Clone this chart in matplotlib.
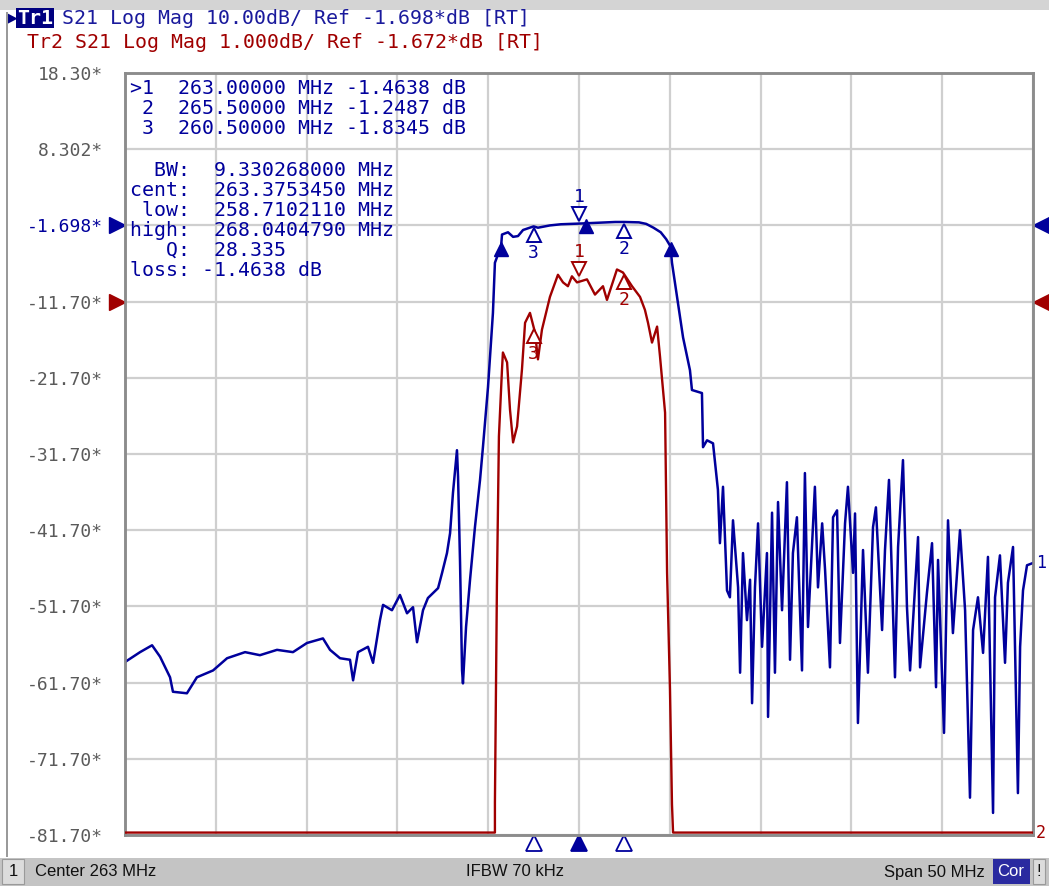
import numpy as np
import matplotlib
matplotlib.use("Agg")
import matplotlib.pyplot as plt
from matplotlib.transforms import offset_copy, blended_transform_factory
from matplotlib.patches import Rectangle

W, H = 1049, 886

BLUE = "#00009c"
RED = "#a00000"
GRID = "#cfcfcf"
FRAME = "#8c8c8c"
LABEL_GRAY = "#5a5a5a"

# sweep setup
CENTER_MHZ = 263.0
SPAN_MHZ = 50.0
TR1_REF = -1.698   # dB, 10 dB/div, ref at 2nd division from top
TR2_REF = -1.672   # dB, 1 dB/div, ref at 3rd division from top

# trace 1 (S21, 10 dB/div)
tr1_freq = [238.00, 238.83, 239.49, 239.93, 240.48, 240.64, 241.41, 241.96, 242.85, 243.62,
            244.61, 245.43, 246.37, 247.25, 248.02, 248.90, 249.29, 249.84, 250.39, 250.56,
            250.83, 251.38, 251.66, 252.04, 252.21, 252.70, 253.14, 253.53, 253.86, 254.08,
            254.41, 254.68, 255.24, 255.46, 255.73, 255.90, 256.06, 256.28, 256.34, 256.45,
            256.56, 256.61, 256.78, 257.00, 257.27, 257.55, 257.71, 257.99, 258.26, 258.37,
            258.54, 258.71, 258.76, 259.09, 259.37, 259.64, 259.92, 260.50, 260.74, 261.40,
            262.00, 263.00, 264.00, 265.00, 265.50, 266.30, 266.70, 267.10, 267.50, 267.80,
            268.04, 268.12, 268.40, 268.73, 269.11, 269.22, 269.77, 269.83, 270.05, 270.38,
            270.65, 270.76, 270.93, 271.15, 271.31, 271.48, 271.76, 271.87, 272.03, 272.25,
            272.42, 272.53, 272.69, 272.86, 273.08, 273.35, 273.41, 273.63, 273.79, 273.96,
            274.18, 274.45, 274.62, 274.78, 275.00, 275.28, 275.44, 275.61, 275.99, 276.16,
            276.39, 276.55, 276.82, 276.99, 277.21, 277.37, 277.65, 277.81, 278.09, 278.20,
            278.36, 278.64, 278.91, 279.19, 279.35, 279.69, 279.85, 280.07, 280.29, 280.40,
            280.57, 280.84, 281.06, 281.23, 281.67, 281.78, 282.16, 282.44, 282.66, 282.77,
            283.10, 283.32, 283.59, 283.98, 284.26, 284.53, 284.70, 284.97, 285.25, 285.52,
            285.80, 285.91, 286.18, 286.46, 286.62, 286.90, 287.17, 287.29, 287.45, 287.67,
            288.00]
tr1_db = [-59.0, -57.7, -56.8, -58.3, -61.0, -62.9, -63.1, -61.0, -60.1, -58.5,
          -57.7, -58.1, -57.4, -57.7, -56.5, -55.9, -57.4, -58.5, -58.7, -61.4,
          -57.7, -57.0, -59.1, -53.5, -51.5, -52.2, -50.2, -52.6, -51.8, -56.4,
          -52.2, -50.6, -49.3, -47.3, -44.7, -42.1, -36.8, -31.2, -34.7, -46.0,
          -60.1, -61.8, -54.4, -48.2, -41.3, -35.1, -30.8, -22.9, -13.2, -6.6,
          -5.5, -4.46, -2.9, -2.6, -3.2, -3.1, -2.3, -1.83, -2.0, -1.7,
          -1.55, -1.46, -1.35, -1.25, -1.25, -1.3, -1.5, -2.0, -2.6, -3.5,
          -4.46, -6.6, -11.1, -16.4, -20.7, -23.3, -23.7, -30.8, -29.9, -30.3,
          -36.4, -43.4, -36.0, -49.6, -50.5, -40.4, -49.2, -60.4, -44.7, -53.5,
          -48.2, -64.4, -49.2, -40.8, -57.0, -44.7, -66.2, -39.4, -60.4, -38.0,
          -52.2, -35.4, -58.7, -44.7, -40.0, -60.1, -34.2, -54.4, -36.0, -49.2,
          -40.8, -46.9, -59.7, -40.0, -39.1, -56.5, -40.8, -36.0, -47.3, -39.5,
          -67.0, -44.3, -60.4, -41.3, -38.7, -54.8, -44.3, -35.1, -52.6, -61.0,
          -43.9, -32.5, -51.8, -60.1, -42.6, -59.7, -49.9, -43.4, -62.3, -45.6,
          -68.3, -40.4, -55.2, -41.7, -52.2, -76.8, -54.8, -50.5, -57.8, -45.2,
          -78.8, -50.5, -45.0, -59.1, -48.6, -43.9, -76.2, -57.0, -49.6, -46.3,
          -46.0]

# trace 2 (S21, 1 dB/div), -8.64 is the clamped display floor
tr2_freq = [238.00, 258.37, 258.37, 258.48, 258.59, 258.76, 258.81, 259.04, 259.20, 259.37,
            259.59, 259.86, 260.03, 260.30, 260.58, 260.74, 260.96, 261.40, 261.84, 262.12,
            262.39, 262.61, 262.89, 263.44, 263.88, 264.32, 264.54, 265.09, 265.42, 265.92,
            266.36, 266.63, 266.80, 267.02, 267.30, 267.46, 267.74, 267.85, 268.01, 268.12,
            268.18, 288.00]
tr2_db = [-8.64, -8.64, -8.25, -5.41, -3.44, -2.56, -2.34, -2.47, -3.09, -3.52,
          -3.31, -2.56, -1.95, -1.82, -2.08, -2.43, -2.04, -1.61, -1.32, -1.42,
          -1.47, -1.34, -1.42, -1.38, -1.58, -1.47, -1.65, -1.25, -1.29, -1.47,
          -1.61, -1.78, -1.95, -2.21, -2.00, -2.39, -3.13, -5.23, -6.76, -8.27,
          -8.64, -8.64]

# markers: number, frequency, trace 1 value, trace 2 value
marker_num = ["1", "2", "3"]
marker_freq = [263.0, 265.5, 260.5]
marker_tr1 = [-1.4638, -1.2487, -1.8345]
marker_tr2 = [-1.38, -1.30, -2.00]

# bandwidth search markers on trace 1
bw_freq = [258.7102110, 263.3753450, 268.0404790]
bw_db = [-4.46, -1.42, -4.46]

marker_lines = [">1  263.00000 MHz -1.4638 dB",
                " 2  265.50000 MHz -1.2487 dB",
                " 3  260.50000 MHz -1.8345 dB"]
bw_lines = ["  BW:  9.330268000 MHz",
            "cent:  263.3753450 MHz",
            " low:  258.7102110 MHz",
            "high:  268.0404790 MHz",
            "   Q:  28.335",
            "loss: -1.4638 dB"]

MONO = "DejaVu Sans Mono"
FS = 14.3


def fx(x):
    return x / W


def fy(y):
    return 1 - y / H


fig = plt.figure(figsize=(W / 100, H / 100), dpi=100)
fig.patch.set_facecolor("white")

# window chrome
fig.patches.append(Rectangle((0, fy(10)), 1, 10 / H, transform=fig.transFigure,
                             fc="#d4d4d4", ec="none"))
fig.patches.append(Rectangle((fx(6), fy(857)), 2 / W, 845 / H, transform=fig.transFigure,
                             fc="#9a9a9a", ec="none"))
fig.patches.append(Rectangle((0, 0), 1, 28 / H, transform=fig.transFigure,
                             fc="#c4c4c4", ec="none"))
fig.patches.append(Rectangle((fx(2), fy(884)), 22 / W, 25 / H, transform=fig.transFigure,
                             fc="#dcdcdc", ec="#9a9a9a", lw=0.8))
fig.patches.append(Rectangle((fx(993), fy(884)), 37 / W, 25 / H, transform=fig.transFigure,
                             fc="#2a2aa0", ec="none"))
fig.patches.append(Rectangle((fx(1033), fy(884)), 12 / W, 25 / H, transform=fig.transFigure,
                             fc="#dcdcdc", ec="#9a9a9a", lw=0.8))

sb_font = dict(family="Liberation Sans", fontsize=12, va="center", color="#101010")
fig.text(fx(13), fy(872), "1", ha="center", **sb_font)
fig.text(fx(35), fy(872), "Center 263 MHz", ha="left", **sb_font)
fig.text(fx(515), fy(872), "IFBW 70 kHz", ha="center", **sb_font)
fig.text(fx(985), fy(872), "Span 50 MHz", ha="right", **sb_font)
fig.text(fx(1011), fy(872), "Cor", ha="center", family="Liberation Sans", fontsize=12,
         va="center", color="white")
fig.text(fx(1039), fy(872), "!", ha="center", **sb_font)

# header lines
fig.text(fx(8), fy(18), "\u25B6", color="#000080", fontsize=9, va="center", ha="left",
         family="DejaVu Sans")
fig.text(fx(17), fy(18), "Tr1", color="white", fontsize=FS, va="center", ha="left",
         family=MONO, fontweight="bold",
         bbox=dict(boxstyle="square,pad=0.05", fc="#000080", ec="none"))
fig.text(fx(62), fy(18), "S21 Log Mag 10.00dB/ Ref -1.698*dB [RT]", color="#1a1a9c",
         fontsize=FS, va="center", ha="left", family=MONO)
fig.text(fx(27), fy(42), "Tr2 S21 Log Mag 1.000dB/ Ref -1.672*dB [RT]", color=RED,
         fontsize=FS, va="center", ha="left", family=MONO)

ax = fig.add_axes([fx(125), fy(835), 908 / W, 762 / H])
ax2 = ax.twinx()

f_lo = CENTER_MHZ - SPAN_MHZ / 2
f_hi = CENTER_MHZ + SPAN_MHZ / 2
ax.set_xlim(f_lo, f_hi)
ax.set_ylim(TR1_REF - 80, TR1_REF + 20)
ax2.set_ylim(TR2_REF - 7, TR2_REF + 3)

ax.set_xticks(np.linspace(f_lo, f_hi, 11))
ax.set_xticklabels([])
yt = np.linspace(TR1_REF - 80, TR1_REF + 20, 11)
ax.set_yticks(yt)
ylabels = ["%.2f*" % v if abs(v) >= 10 else "%.3f*" % v for v in yt]
ax.set_yticklabels(ylabels, family=MONO, fontsize=13, color=LABEL_GRAY)
for lab, v in zip(ax.get_yticklabels(), yt):
    if abs(v - TR1_REF) < 1e-6:
        lab.set_color(BLUE)
ax.tick_params(length=0, pad=16)
ax2.set_yticks([])
ax.grid(True, color=GRID, lw=1.6)
ax.set_axisbelow(True)
for a in (ax, ax2):
    for sp in a.spines.values():
        sp.set_color(FRAME)
        sp.set_linewidth(1.8)

# ax2 (red trace) sits above ax, so the grid of ax stays under both traces
ax.plot(tr1_freq, tr1_db, color=BLUE, lw=1.8, zorder=3)
ax2.plot(tr2_freq, tr2_db, color=RED, lw=1.7, zorder=3)


def off(a, dy):
    return offset_copy(a.transData, fig=fig, x=0, y=dy, units="dots")


def draw_marker(a, f, v, num, color, active):
    if active:
        a.plot([f], [v], marker="v", ms=10, mfc="white", mec=color, mew=1.4,
               transform=off(a, 10), clip_on=False, zorder=5)
        a.text(f, v, num, transform=off(a, 27), color=color, ha="center", va="center",
               family=MONO, fontsize=13, zorder=5)
    else:
        a.plot([f], [v], marker="^", ms=10, mfc="white", mec=color, mew=1.4,
               transform=off(a, -9), clip_on=False, zorder=5)
        a.text(f, v, num, transform=off(a, -27), color=color, ha="center", va="center",
               family=MONO, fontsize=13, zorder=5)


for i, (n, f) in enumerate(zip(marker_num, marker_freq)):
    draw_marker(ax, f, marker_tr1[i], n, BLUE, n == "1")
    draw_marker(ax2, f, marker_tr2[i], n, RED, n == "1")

ax.plot(bw_freq, bw_db, ls="none", marker="^", ms=10, color=BLUE,
        transform=off(ax, -3), zorder=6)

# stimulus markers under the grid
bt = blended_transform_factory(ax.transData, ax.transAxes)
for n, f in zip(marker_num, marker_freq):
    ax.plot([f], [-0.011], transform=bt, marker="^", ms=11, clip_on=False,
            mfc=BLUE if n == "1" else "white", mec=BLUE, mew=1.3)

# reference level arrows
lt = blended_transform_factory(ax.transAxes, ax.transData)
lt2 = blended_transform_factory(ax2.transAxes, ax2.transData)
ax.plot([-0.009], [TR1_REF], transform=lt, marker=">", ms=11, color=BLUE, clip_on=False)
ax.plot([1.009], [TR1_REF], transform=lt, marker="<", ms=11, color=BLUE, clip_on=False)
ax2.plot([-0.009], [TR2_REF], transform=lt2, marker=">", ms=11, color=RED, clip_on=False)
ax2.plot([1.009], [TR2_REF], transform=lt2, marker="<", ms=11, color=RED, clip_on=False)

ax.text(1.003, tr1_db[-1], "1", transform=lt, color=BLUE, family=MONO, fontsize=12,
        va="center", ha="left", clip_on=False)
ax2.text(1.003, tr2_db[-1], "2", transform=lt2, color=RED, family=MONO, fontsize=12,
         va="center", ha="left", clip_on=False)

# marker readout
for i, s in enumerate(marker_lines):
    fig.text(fx(130), fy(88 + 20.5 * i), s, color=BLUE, family=MONO, fontsize=FS,
             va="center", ha="left")
for i, s in enumerate(bw_lines):
    fig.text(fx(130), fy(170 + 20 * i), s, color=BLUE, family=MONO, fontsize=FS,
             va="center", ha="left")

fig.savefig("out.png", dpi=100, facecolor="white")
